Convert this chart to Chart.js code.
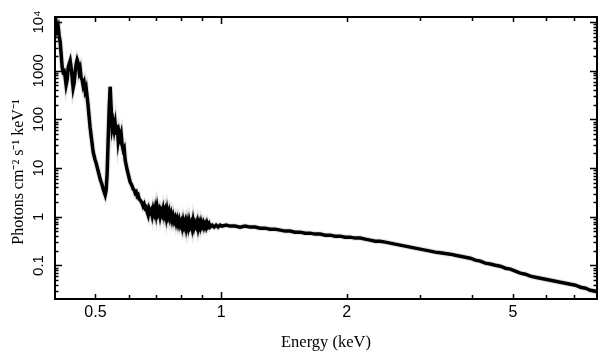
<!DOCTYPE html>
<html><head><meta charset="utf-8">
<script src="https://cdn.jsdelivr.net/npm/chart.js@4"></script>
<style>html,body{margin:0;padding:0;background:#fff;}canvas{display:block;}</style>
</head><body>
<canvas id="c" width="609" height="362"></canvas>
<script>
// ---- data (energy in keV, flux in photons cm^-2 s^-1 keV^-1) ----
const energyLow = [0.4004,0.4026,0.4048,0.4071,0.4093,0.4116,0.4139,0.4162,0.4183,0.4207,0.4230,0.4253,0.4277,0.4301,0.4325,0.4349,0.4373,0.4397,0.4421,0.4446,0.4471,0.4496,0.4520,0.4545,0.4571,0.4596,0.4621,0.4646,0.4672,0.4698,0.4724,0.4750,0.4776,0.4802,0.4829,0.4856,0.4883,0.4910,0.4937,0.4964,0.4991,0.5019,0.5047,0.5075,0.5103,0.5131,0.5159,0.5188,0.5217,0.5246,0.5275,0.5304,0.5333,0.5363,0.5392,0.5422,0.5452,0.5483,0.5513,0.5544,0.5574,0.5605,0.5636,0.5667,0.5698,0.5730,0.5762,0.5794,0.5826,0.5858,0.5890,0.5923,0.5956,0.5989,0.6022,0.6055,0.6089,0.6122,0.6156,0.6190,0.6224,0.6258,0.6292,0.6327,0.6362,0.6397];
const fluxLow = [8000,9680,6950,8000,5230,3940,2120,1150,950,990,750,513,650,1150,1380,1600,1150,715,445,564,950,1380,1680,1450,950,1100,715,650,489,564,386,445,290,190,112,66.9,45.8,31.3,21.4,17.7,14.7,12.7,10.5,8.72,7.21,5.96,5.18,4.49,3.72,3.22,2.80,3.54,7.93,37.9,157,470,173,66.9,84.7,60.8,80.8,48.0,77.1,37.9,52.8,41.6,50.4,29.9,23.6,25.9,14.7,11.6,9.14,7.56,6.25,5.18,4.71,4.28,3.72,3.54,3.07,3.22,2.67,2.80,2.32,2.21];
const energyMid = [0.6468,0.6504,0.6540,0.6577,0.6613,0.6650,0.6687,0.6724,0.6761,0.6798,0.6836,0.6874,0.6912,0.6950,0.6988,0.7027,0.7066,0.7105,0.7144,0.7184,0.7224,0.7264,0.7304,0.7344,0.7385,0.7425,0.7467,0.7508,0.7549,0.7591,0.7633,0.7675,0.7718,0.7760,0.7803,0.7846,0.7890,0.7933,0.7977,0.8021,0.8066,0.8110,0.8155,0.8200,0.8245,0.8291,0.8337,0.8382,0.8428,0.8475,0.8522,0.8569,0.8616,0.8664,0.8712,0.8760,0.8808,0.8857,0.8906,0.8955,0.9005,0.9055,0.9105,0.9155,0.9205,0.9256,0.9307,0.9359,0.9412,0.9516,0.9621,0.9727,0.9835,0.9945];
const fluxMid = [1.91,1.66,1.82,1.51,1.58,1.25,1.08,1.44,1.25,1.37,1.08,1.44,1.19,1.51,1.13,1.58,1.19,1.37,1.03,1.31,1.13,1.44,1.08,1.31,0.985,1.37,1.03,1.25,0.94,1.13,0.855,1.03,0.816,0.94,0.742,0.897,0.708,0.855,0.675,0.778,0.614,0.816,0.644,0.778,0.585,0.778,0.614,0.816,0.644,0.742,0.585,0.816,0.614,0.742,0.644,0.778,0.585,0.742,0.614,0.778,0.644,0.742,0.614,0.708,0.614,0.742,0.644,0.708,0.614,0.675,0.614,0.675,0.614,0.675];
const energyHigh = [1.0055,1.028,1.051,1.080,1.110,1.141,1.173,1.206,1.240,1.274,1.310,1.347,1.385,1.423,1.463,1.504,1.546,1.589,1.634,1.679,1.726,1.775,1.824,1.875,1.928,1.982,2.037,2.094,2.153,2.213,2.275,2.339,2.404,2.472,2.541,2.612,2.685,2.760,2.837,2.917,2.998,3.082,3.169,3.257,3.349,3.442,3.539,3.638,3.740,3.844,3.952,4.063,4.177,4.293,4.414,4.537,4.664,4.795,4.929,5.067,5.209,5.355,5.505,5.659,5.817,5.980,6.148,6.320,6.497,6.679,6.866,7.058,7.256,7.459,7.668,7.883,7.970];
const fluxHigh = [0.644,0.675,0.644,0.644,0.614,0.644,0.614,0.614,0.585,0.585,0.558,0.558,0.532,0.508,0.508,0.484,0.484,0.462,0.462,0.441,0.441,0.420,0.420,0.401,0.401,0.382,0.382,0.365,0.365,0.348,0.332,0.316,0.316,0.302,0.288,0.275,0.262,0.250,0.238,0.227,0.217,0.207,0.197,0.188,0.183,0.176,0.171,0.163,0.155,0.148,0.141,0.129,0.123,0.112,0.107,0.1015,0.0968,0.088,0.0841,0.0763,0.0695,0.0663,0.0603,0.0575,0.0548,0.0523,0.0499,0.0476,0.0454,0.0433,0.0413,0.0394,0.0358,0.0341,0.0310,0.0296,0.0282];

// ---- tick labels ----
const xTickValues = [0.5, 1, 2, 5];
const xTickLabels = ['0.5', '1', '2', '5'];
const xMinorTicks = [0.6, 0.7, 0.8, 0.9, 3, 4, 6, 7];
const yTickValues = [0.1, 1, 10, 100, 1000, 10000];
const yTickLabels = ['0.1', '1', '10', '100', '1000', '10\u2074'];
const yMinorTicks = [];
[0.01, 0.1, 1, 10, 100, 1000, 10000].forEach(d => { for (let m = 2; m <= 9; m++) yMinorTicks.push(+(m * d).toPrecision(3)); });

const xTitle = 'Energy (keV)';
const yTitle = 'Photons cm\u207B\u00B2 s\u207B\u00B9 keV\u207B\u00B9';

const energies = energyLow.concat(energyMid, energyHigh);
const fluxes = fluxLow.concat(fluxMid, fluxHigh);
const points = energies.map((e, i) => ({ x: e, y: fluxes[i] }));

const frameTicks = {
  id: 'frameTicks',
  afterDraw(chart) {
    const { ctx, chartArea: a, scales: { x, y } } = chart;
    ctx.save();
    ctx.strokeStyle = '#000';
    ctx.lineWidth = 1.5;
    ctx.beginPath();
    const xt = (v, len) => {
      const px = Math.round(x.getPixelForValue(v)) + 0.5;
      if (px < a.left + 1 || px > a.right - 1) return;
      ctx.moveTo(px, a.bottom); ctx.lineTo(px, a.bottom - len);
      ctx.moveTo(px, a.top); ctx.lineTo(px, a.top + len);
    };
    const yt = (v, len) => {
      const py = Math.round(y.getPixelForValue(v)) + 0.5;
      if (py < a.top + 1 || py > a.bottom - 1) return;
      ctx.moveTo(a.left, py); ctx.lineTo(a.left + len, py);
      ctx.moveTo(a.right, py); ctx.lineTo(a.right - len, py);
    };
    xTickValues.forEach(v => xt(v, v === 1 ? 7 : 5));
    xMinorTicks.forEach(v => xt(v, 4));
    yTickValues.forEach(v => yt(v, 7));
    yMinorTicks.forEach(v => yt(v, 3.5));
    ctx.stroke();
    ctx.lineWidth = 2;
    ctx.strokeRect(a.left, a.top, a.right - a.left, a.bottom - a.top);
    ctx.fillStyle = '#000';
    ctx.font = '15px "Liberation Sans", Arial, sans-serif';
    ctx.textAlign = 'center';
    ctx.textBaseline = 'middle';
    yTickValues.forEach((v, i) => {
      const py = y.getPixelForValue(v);
      ctx.save();
      ctx.translate(39, py);
      ctx.rotate(-Math.PI / 2);
      ctx.fillText(yTickLabels[i], 0, 0);
      ctx.restore();
    });
    ctx.restore();
  }
};

new Chart(document.getElementById('c'), {
  type: 'line',
  data: {
    datasets: [
      { data: points, borderColor: '#000', borderWidth: 3.5, pointRadius: 0, tension: 0, order: 1 },
      { data: points, borderColor: '#e2e2e2', borderWidth: 5.5, pointRadius: 0, tension: 0, order: 2 }
    ]
  },
  options: {
    responsive: false,
    animation: false,
    devicePixelRatio: 1,
    layout: { padding: { top: 17, right: 12, left: 0, bottom: 0 } },
    plugins: { legend: { display: false }, tooltip: { enabled: false } },
    scales: {
      x: {
        type: 'logarithmic', position: 'bottom', min: 0.4, max: 7.95,
        grid: { display: false, drawTicks: false },
        border: { display: false },
        afterBuildTicks: s => { s.ticks = xTickValues.map(v => ({ value: v })); },
        afterFit: s => { s.height = 63; },
        ticks: {
          autoSkip: false, maxRotation: 0, minRotation: 0, padding: 4, color: '#000',
          font: { family: '"Liberation Sans", Arial, sans-serif', size: 16, lineHeight: 1.2 },
          callback: (v, i) => xTickLabels[i]
        },
        title: {
          display: true, text: xTitle, color: '#000',
          font: { family: '"Liberation Serif", "Times New Roman", serif', size: 16.5, lineHeight: 1.2 },
          padding: { top: 0, bottom: 9 }
        }
      },
      y: {
        type: 'logarithmic', position: 'left', min: 0.0205, max: 12700,
        grid: { display: false, drawTicks: false },
        border: { display: false },
        afterBuildTicks: s => { s.ticks = yTickValues.map(v => ({ value: v })); },
        afterFit: s => { s.width = 55; },
        ticks: { display: false },
        title: {
          display: true, text: yTitle + '       ', color: '#000',
          font: { family: '"Liberation Serif", "Times New Roman", serif', size: 16, lineHeight: 1.2 },
          padding: { top: 9, bottom: 0 }
        }
      }
    }
  },
  plugins: [frameTicks]
});
</script>
</body></html>
